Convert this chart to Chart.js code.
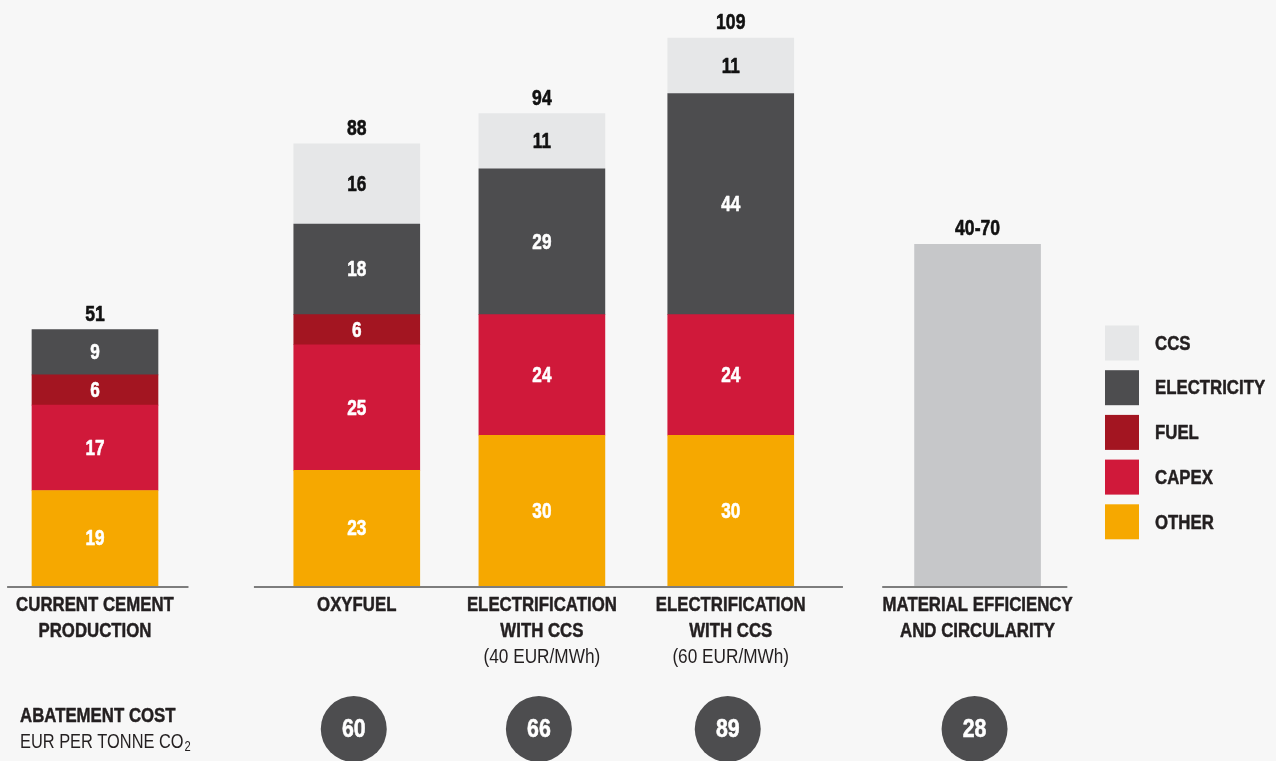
<!DOCTYPE html>
<html>
<head>
<meta charset="utf-8">
<script src="https://cdn.jsdelivr.net/npm/chart.js@4"></script>
<style>
  html, body { margin: 0; padding: 0; background: #f7f7f7; }
  canvas { display: block; }
</style>
</head>
<body>
<canvas id="chartBiaya" width="1276" height="761"></canvas>
<script>
// data
const categories = [
    ['CURRENT CEMENT', 'PRODUCTION'],
    ['OXYFUEL'],
    ['ELECTRIFICATION', 'WITH CCS'],
    ['ELECTRIFICATION', 'WITH CCS'],
    ['MATERIAL EFFICIENCY', 'AND CIRCULARITY']
];
const subLabels = ['', '', '(40 EUR/MWh)', '(60 EUR/MWh)', ''];
const other = [19, 23, 30, 30, null];
const capex = [17, 25, 24, 24, null];
const fuel = [6, 6, null, null, null];
const electricity = [9, 18, 29, 44, null];
const ccs = [null, 16, 11, 11, null];
const materialEfficiency = [null, null, null, null, 68];
const totalLabels = ['51', '88', '94', '109', '40-70'];
const abatementCost = [null, 60, 66, 89, 28];

// layout: where each bar sits on the x axis (bars are not evenly spaced)
const slots = [0, 1.4, 2.39, 3.4, 4.72];
// base line pieces: first bar, last bar, left pad, right pad
const axisGroups = [[0, 0, 0.47, 0.5], [1, 3, 0.55, 0.6], [4, 4, 0.51, 0.48]];

const FONT = '"Liberation Sans", Arial, sans-serif';
const TEXT = '#231f20';

const toPoints = arr => slots.map((x, i) => ({ x: x, y: arr[i] }));

// condensed text: the original uses a narrow face, so squeeze horizontally
// tebal = extra stroke to get the heavier look of the original bold face
function teks(ctx, str, x, y, sx, tebal) {
    ctx.save();
    ctx.translate(x, y);
    ctx.scale(sx, 1);
    if (tebal) {
        ctx.strokeStyle = ctx.fillStyle;
        ctx.lineWidth = tebal;
        ctx.lineJoin = 'round';
        ctx.strokeText(str, 0, 0);
    }
    ctx.fillText(str, 0, 0);
    ctx.restore();
}

const seri = [
    { label: 'OTHER', data: other, color: '#f6a800', text: '#ffffff' },
    { label: 'CAPEX', data: capex, color: '#d0193a', text: '#ffffff' },
    { label: 'FUEL', data: fuel, color: '#a31521', text: '#ffffff' },
    { label: 'ELECTRICITY', data: electricity, color: '#4d4d4f', text: '#ffffff' },
    { label: 'CCS', data: ccs, color: '#e6e7e8', text: '#111111' }
];

const datasets = seri.map(s => ({
    label: s.label,
    data: toPoints(s.data),
    backgroundColor: s.color,
    textColor: s.text,
    barThickness: 126,
    inLegend: true
}));
datasets.push({
    label: 'MATERIAL EFFICIENCY',
    data: toPoints(materialEfficiency),
    backgroundColor: '#c6c7c9',
    barThickness: 126,
    inLegend: false,
    noValue: true
});

const gambarLabel = {
    id: 'gambarLabel',
    afterDatasetsDraw(chart) {
        const ctx = chart.ctx;
        const xs = chart.scales.x;
        const ys = chart.scales.y;
        ctx.save();

        // segment values
        ctx.font = 'bold 22px ' + FONT;
        ctx.textAlign = 'center';
        ctx.textBaseline = 'middle';
        chart.data.datasets.forEach((ds, di) => {
            if (ds.noValue) return;
            const meta = chart.getDatasetMeta(di);
            meta.data.forEach((el, i) => {
                const v = ds.data[i].y;
                if (v == null) return;
                ctx.fillStyle = ds.textColor;
                teks(ctx, String(v), el.x, (el.y + el.base) / 2 + 1, 0.78, 0.6);
            });
        });

        // totals on top
        ctx.fillStyle = '#111111';
        ctx.textBaseline = 'alphabetic';
        slots.forEach((s, i) => {
            let sum = 0;
            chart.data.datasets.forEach(ds => { sum += ds.data[i].y || 0; });
            teks(ctx, totalLabels[i], xs.getPixelForValue(s), ys.getPixelForValue(sum) - 9, 0.8, 0.6);
        });

        // broken base lines
        ctx.strokeStyle = '#7d7d7d';
        ctx.lineWidth = 2;
        const baseY = ys.getPixelForValue(0) + 1;
        axisGroups.forEach(g => {
            ctx.beginPath();
            ctx.moveTo(xs.getPixelForValue(slots[g[0]] - g[2]), baseY);
            ctx.lineTo(xs.getPixelForValue(slots[g[1]] + g[3]), baseY);
            ctx.stroke();
        });

        // category labels
        ctx.textBaseline = 'middle';
        categories.forEach((lines, i) => {
            const cx = xs.getPixelForValue(slots[i]);
            ctx.fillStyle = TEXT;
            ctx.font = 'bold 21px ' + FONT;
            lines.forEach((t, k) => teks(ctx, t, cx, 605 + k * 26, 0.8, 0.5));
            if (subLabels[i]) {
                ctx.font = '21px ' + FONT;
                teks(ctx, subLabels[i], cx, 605 + lines.length * 26, 0.82);
            }
        });

        // abatement cost row
        ctx.textAlign = 'left';
        ctx.font = 'bold 21px ' + FONT;
        teks(ctx, 'ABATEMENT COST', 20, 716, 0.8, 0.5);
        ctx.font = '21px ' + FONT;
        const t = 'EUR PER TONNE CO';
        teks(ctx, t, 20, 742, 0.78);
        const w = ctx.measureText(t).width * 0.78;
        ctx.font = '14px ' + FONT;
        teks(ctx, '2', 20 + w + 1, 747, 0.8);

        ctx.textAlign = 'center';
        abatementCost.forEach((c, i) => {
            if (c == null) return;
            const cx = xs.getPixelForValue(slots[i]) - 3;
            ctx.fillStyle = '#4d4d4f';
            ctx.beginPath();
            ctx.arc(cx, 729, 33, 0, Math.PI * 2);
            ctx.fill();
            ctx.fillStyle = '#ffffff';
            ctx.font = 'bold 26px ' + FONT;
            teks(ctx, String(c), cx, 730, 0.82, 0.6);
        });

        // legend, top item first
        const legendItems = chart.data.datasets.filter(ds => ds.inLegend).reverse();
        ctx.textAlign = 'left';
        ctx.font = 'bold 21px ' + FONT;
        legendItems.forEach((ds, k) => {
            const cy = 343 + k * 44.7;
            ctx.fillStyle = ds.backgroundColor;
            ctx.fillRect(1105, cy - 17.5, 34, 35);
            ctx.fillStyle = TEXT;
            teks(ctx, ds.label, 1155, cy + 1, 0.8, 0.5);
        });

        ctx.restore();
    }
};

new Chart(document.getElementById('chartBiaya').getContext('2d'), {
    type: 'bar',
    data: { datasets: datasets },
    options: {
        responsive: false,
        animation: false,
        devicePixelRatio: 1,
        layout: { padding: { top: 3, bottom: 175, left: 0, right: 0 } },
        plugins: { legend: { display: false }, tooltip: { enabled: false } },
        scales: {
            x: { type: 'linear', display: false, stacked: true, offset: false, min: -0.508, max: 6.316 },
            y: { display: false, stacked: true, min: 0, max: 116 }
        }
    },
    plugins: [gambarLabel]
});
</script>
</body>
</html>
